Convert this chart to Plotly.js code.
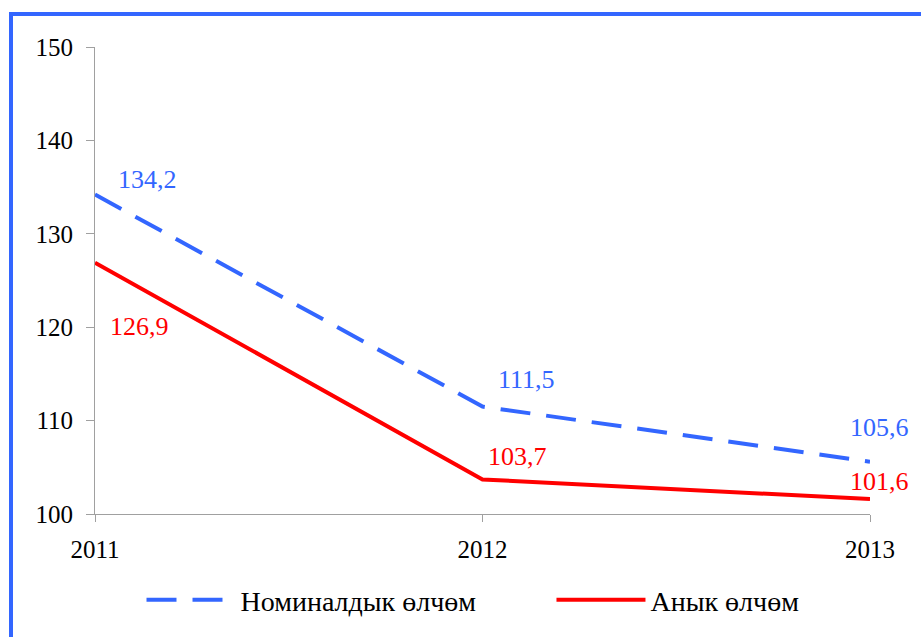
<!DOCTYPE html>
<html>
<head>
<meta charset="utf-8">
<script src="https://cdn.plot.ly/plotly-3.0.1.min.js"></script>
<style>
body { margin: 0; background: #fff; }
#frame {
    position: absolute; left: 9px; top: 12px;
    border-left: 4px solid #3366ff;
    border-top: 4px solid #3366ff;
}
#chart { width: 908px; height: 621px; }
</style>
</head>
<body>
<div id="frame"><div id="chart"></div></div>
<script>
// years and index values
var years = ['2011', '2012', '2013'];
var nominal = [134.2, 111.5, 105.6];
var real = [126.9, 103.7, 101.6];
var seriesNames = ['Номиналдык өлчөм', 'Анык өлчөм'];
var yTicks = [100, 110, 120, 130, 140, 150];

var blue = '#3366ff';
var red = '#ff0000';
var serif = 'Liberation Serif';

var fmt = function(v) {
    return v.toFixed(1).replace('.', ',');
}

var data = [{
    x: years,
    y: nominal,
    name: seriesNames[0],
    type: 'scatter',
    mode: 'lines',
    line: {color: blue, width: 4, dash: '30px,16px'},
    legend: 'legend',
    hoverinfo: 'none'
}, {
    x: years,
    y: real,
    name: seriesNames[1],
    type: 'scatter',
    mode: 'lines',
    line: {color: red, width: 4},
    legend: 'legend2',
    hoverinfo: 'none'
}];

// label offsets
var blueShift = [[21, 15], [13, 27], [-22, 34]];
var redShift = [[13, -64], [3, 23], [-22, 18]];

var annotations = [];
for (var i = 0; i < years.length; i++) {
    annotations.push({
        x: i, y: nominal[i], xref: 'x', yref: 'y',
        text: fmt(nominal[i]), showarrow: false,
        xanchor: 'left', yanchor: 'middle',
        xshift: blueShift[i][0], yshift: blueShift[i][1],
        font: {family: serif, size: 26, color: blue}
    });
    annotations.push({
        x: i, y: real[i], xref: 'x', yref: 'y',
        text: fmt(real[i]), showarrow: false,
        xanchor: 'left', yanchor: 'middle',
        xshift: redShift[i][0], yshift: redShift[i][1],
        font: {family: serif, size: 26, color: red}
    });
}

var legendStyle = function(xpos) {
    return {
        orientation: 'h',
        x: xpos,
        xanchor: 'left',
        y: -0.184,
        yanchor: 'middle',
        itemwidth: 89,
        font: {family: serif, size: 28, color: '#000'},
        bgcolor: 'rgba(0,0,0,0)'
    };
}

var layout = {
    width: 908,
    height: 621,
    margin: {l: 82, r: 51, t: 31, b: 123, autoexpand: false},
    paper_bgcolor: '#fff',
    plot_bgcolor: '#fff',
    font: {family: serif, size: 25, color: '#000'},
    separators: ', ',
    showlegend: true,
    xaxis: {
        type: 'category',
        range: [0, 2],
        showgrid: false,
        zeroline: false,
        showline: true,
        linecolor: '#a0a0a0',
        linewidth: 1,
        ticks: 'outside',
        ticklen: 7,
        tickcolor: '#a0a0a0',
        ticklabelstandoff: 6,
        tickfont: {family: serif, size: 25, color: '#000'}
    },
    yaxis: {
        range: [100, 150],
        tickvals: yTicks,
        showgrid: false,
        zeroline: false,
        showline: true,
        linecolor: '#a0a0a0',
        linewidth: 1,
        ticks: 'outside',
        ticklen: 8,
        tickcolor: '#a0a0a0',
        ticklabelstandoff: 8,
        tickfont: {family: serif, size: 25, color: '#000'}
    },
    legend: legendStyle(0.06),
    legend2: legendStyle(0.589),
    annotations: annotations
};

Plotly.newPlot('chart', data, layout, {displayModeBar: false, staticPlot: true});
</script>
</body>
</html>
